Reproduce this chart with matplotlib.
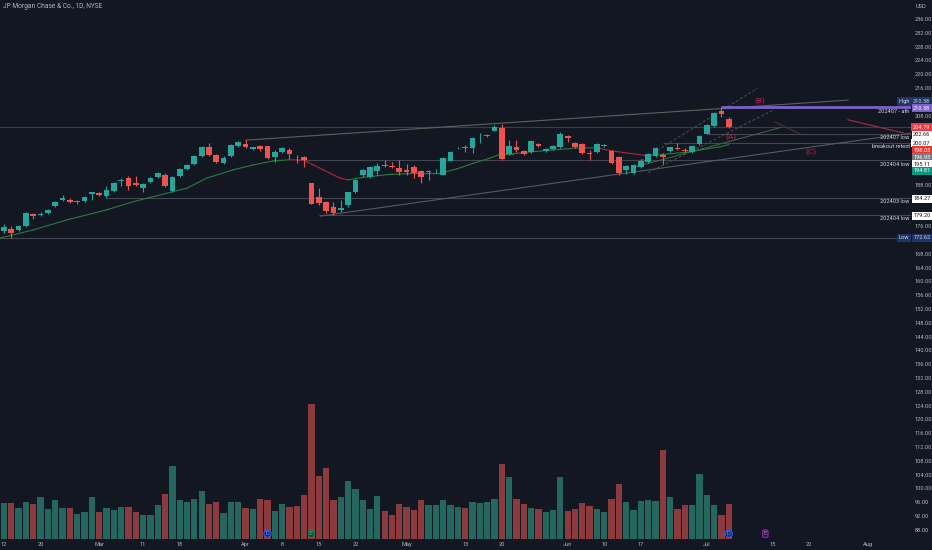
import matplotlib
matplotlib.use("Agg")
import matplotlib.pyplot as plt
from matplotlib.transforms import blended_transform_factory

plt.rcParams['font.family'] = ['Roboto', 'DejaVu Sans']

BG = '#131722'
UP = '#26a69a'
DOWN = '#ef5350'
VOL_UP = '#24675f'
VOL_DOWN = '#8b3a3d'
TXT = '#b2b5be'
FS = 4.1

# daily candles, 12 Feb 2024 .. 5 Jul 2024
opens = [174.5, 175.2, 174.8, 176.0, 179.5, 179.1, 179.8, 181.7, 183.6, 183.7,
         183.0, 183.3, 185.4, 185.7, 184.6, 186.2, 189.1, 189.9, 188.5, 187.1,
         188.8, 190.3, 190.9, 186.3, 190.5, 192.6, 194.1, 196.3, 198.9, 196.5,
         194.4, 196.4, 199.3, 199.9, 198.4, 199.1, 199.1, 196.0, 197.5, 198.0,
         195.8, 196.0, 188.4, 184.5, 182.9, 181.4, 180.6, 182.1, 185.8, 190.8,
         190.3, 192.0, 193.7, 193.5, 192.8, 192.3, 193.0, 192.0, 191.6, 191.9,
         190.8, 195.0, 198.5, 198.8, 198.7, 202.0, 202.1, 203.5, 204.3, 196.8,
         198.9, 197.8, 197.6, 199.8, 197.9, 198.3, 199.0, 202.2, 200.1, 199.7,
         197.3, 197.4, 199.2, 197.8, 195.9, 192.3, 191.3, 193.2, 194.5, 196.3,
         196.5, 197.8, 198.6, 198.1, 197.4, 199.8, 202.7, 205.1, 209.4, 206.9]
highs = [176.5, 175.9, 176.4, 180.0, 179.8, 180.0, 181.0, 183.3, 185.0, 184.1,
         183.7, 184.7, 186.0, 186.0, 187.5, 188.7, 189.9, 190.4, 190.5, 188.5,
         190.1, 191.6, 191.3, 190.6, 192.9, 194.0, 196.5, 199.2, 200.2, 196.8,
         196.2, 199.7, 200.6, 201.0, 199.0, 199.4, 199.3, 198.1, 198.8, 198.7,
         196.6, 196.3, 188.6, 187.0, 183.3, 183.1, 183.6, 186.0, 189.6, 192.5,
         193.4, 194.2, 195.1, 194.5, 195.2, 194.0, 193.7, 192.3, 192.2, 192.4,
         195.9, 197.8, 199.0, 199.5, 201.7, 202.9, 202.8, 205.3, 205.6, 200.9,
         200.9, 198.0, 201.0, 200.1, 198.6, 199.6, 203.4, 202.4, 200.4, 200.0,
         198.1, 200.2, 199.9, 198.1, 196.2, 193.7, 194.0, 195.3, 197.1, 198.8,
         197.1, 199.0, 200.0, 198.5, 199.3, 202.5, 205.6, 209.0, 210.38, 207.7]
lows = [174.0, 172.62, 174.5, 175.8, 178.1, 178.8, 179.5, 181.4, 183.3, 182.6,
        182.5, 183.0, 183.6, 184.8, 184.27, 186.0, 187.5, 186.5, 187.5, 186.0,
        188.5, 190.0, 187.3, 186.0, 190.2, 192.3, 193.8, 196.0, 196.3, 194.4,
        194.1, 196.1, 199.0, 198.7, 198.1, 197.9, 195.4, 194.7, 197.2, 195.4,
        194.2, 193.0, 182.3, 182.1, 179.7, 179.2, 180.2, 181.5, 185.5, 190.2,
        190.0, 190.8, 193.0, 192.8, 190.8, 190.8, 189.9, 188.4, 189.4, 191.5,
        190.7, 194.8, 198.2, 197.5, 197.1, 200.0, 201.9, 203.5, 195.1, 196.5,
        197.6, 196.6, 197.3, 199.0, 197.4, 198.0, 198.5, 200.5, 198.6, 196.8,
        195.1, 197.1, 198.9, 194.0, 190.8, 191.0, 191.0, 192.9, 194.2, 196.0,
        194.0, 197.5, 198.1, 197.6, 197.1, 199.5, 202.66, 204.8, 207.7, 204.3]
closes = [175.7, 174.1, 176.0, 179.7, 178.8, 179.6, 180.8, 183.0, 184.0, 183.1,
          183.4, 184.4, 185.9, 185.1, 186.6, 188.4, 189.5, 187.6, 187.9, 188.2,
          189.8, 191.3, 187.7, 190.3, 192.6, 193.7, 196.2, 198.9, 196.5, 194.7,
          195.7, 199.4, 200.3, 198.8, 198.8, 198.2, 195.7, 197.5, 198.5, 196.9,
          195.6, 195.2, 182.5, 182.6, 180.5, 179.7, 181.3, 185.8, 189.4, 192.2,
          193.1, 193.4, 193.4, 193.1, 191.6, 191.7, 191.5, 190.3, 192.0, 192.1,
          195.6, 197.5, 198.7, 198.5, 201.4, 202.2, 202.5, 204.8, 195.3, 199.3,
          198.0, 196.8, 200.7, 199.3, 198.2, 199.3, 202.6, 201.6, 198.9, 197.1,
          196.8, 199.9, 199.6, 194.2, 191.3, 193.5, 193.7, 195.0, 196.8, 198.5,
          196.0, 198.8, 198.3, 197.9, 199.1, 202.2, 205.3, 208.7, 208.5, 204.79]
# volume in millions (relative bar heights)
volumes = [6.8, 6.8, 5.8, 7.0, 6.6, 7.8, 5.6, 7.4, 5.8, 5.8,
           4.7, 5.0, 7.8, 5.1, 5.8, 5.4, 6.1, 6.1, 5.0, 4.6,
           4.6, 6.4, 8.4, 13.8, 7.3, 6.9, 7.6, 9.0, 6.6, 7.0,
           4.9, 7.0, 7.0, 5.9, 5.6, 7.6, 7.4, 5.3, 6.6, 6.0,
           6.2, 8.3, 25.3, 11.9, 13.3, 7.3, 7.8, 10.8, 9.3, 7.4,
           5.6, 8.0, 5.3, 4.5, 6.6, 6.1, 5.4, 7.3, 6.4, 6.3,
           7.4, 6.4, 6.1, 5.8, 6.9, 6.8, 6.9, 7.5, 14.0, 11.6,
           7.6, 6.6, 5.9, 5.6, 5.0, 5.5, 11.6, 5.3, 5.6, 6.8,
           6.2, 5.6, 5.0, 7.5, 10.3, 6.9, 5.5, 7.1, 7.3, 7.1,
           16.8, 7.9, 5.6, 6.3, 6.4, 12.3, 8.3, 6.4, 4.5, 6.6]

# moving average line, traced at a few points (bar index, price)
ma_x = [-0.6, 4, 8.6, 14, 17.7, 22.2, 25, 27.7, 31.3, 34, 36.8, 39, 41, 43.6, 45.9,
        47, 49, 52.7, 57.3, 59.6, 61.9, 64.1, 66.4, 68, 69.6, 74.1, 78, 81, 83,
        87.8, 90, 93.3, 97.8, 99]
ma_y = [172.5, 174.9, 177.8, 180.7, 183.1, 185.5, 187.0, 189.9, 192.3, 193.7, 194.9,
        195.2, 195.1, 192.3, 189.9, 189.4, 190.1, 191.0, 191.3, 191.3, 192.6, 194.2,
        195.7, 197.0, 197.0, 197.9, 198.6, 198.7, 197.8, 196.4, 196.8, 197.4, 199.0,
        199.6]

tick_idx = [0, 5, 13, 19, 24, 33, 38, 43, 48, 55, 63, 68, 77, 82, 87, 96, 105, 110, 118]
tick_lbl = ['12', '20', 'Mar', '11', '18', 'Apr', '8', '15', '22', 'May', '13', '20',
            'Jun', '10', '17', 'Jul', '15', '22', 'Aug']
price_ticks = [236, 232, 228, 224, 220, 216, 208, 188, 176] + list(range(168, 87, -4))

# key levels: (price, start bar, note)
levels = [(202.66, 96, '202407 low'), (200.07, 90, 'breakout retest'),
          (195.11, 40, '202404 low'), (184.27, 14, '202403 low'),
          (179.20, 43, '202404 low'), (172.62, -1, None)]
ath = 210.38
last_close = closes[-1]

fig = plt.figure(figsize=(9.32, 5.5), dpi=100, facecolor=BG)
ax = fig.add_axes([0, 11 / 550, 911 / 932, 539 / 550])
axv = ax.twinx()
ax.set_zorder(2)
axv.set_zorder(1)
ax.patch.set_visible(False)

n = len(closes)
xs = list(range(n))
up = [c >= o for o, c in zip(opens, closes)]

# volume
axv.bar(xs, volumes, width=0.86, color=[VOL_UP if u else VOL_DOWN for u in up], linewidth=0)
axv.set_ylim(0, max(volumes) * 539 / 134.7)
axv.set_yticks([])
for s in axv.spines.values():
    s.set_visible(False)

# horizontal levels
ax.axhline(last_close, color='#3a3e4a', lw=0.8, zorder=1)
for price, start, note in levels:
    ax.hlines(price, start, 130, color='#434651', lw=0.8, zorder=1)
ax.hlines(ath, 98, 130, color='#7b61c9', lw=2.0, zorder=3)

# trend lines
ax.plot([33, 115.3], [200.9, 212.5], color='#55655d', lw=0.8, zorder=1)
ax.plot([43.2, 124], [178.9, 203.0], color='#545a62', lw=0.8, zorder=1)
ax.plot([87, 102.9], [195.0, 215.9], color='#4b4f5a', lw=0.7, ls=(0, (3, 2)), zorder=1)
ax.plot([88, 105], [191.5, 209.5], color='#4b4f5a', lw=0.7, ls=(0, (3, 2)), zorder=1)
ax.plot([86, 106], [193.0, 204.5], color='#3d6b45', lw=0.7, zorder=1)
ax.plot([105.3, 108.7], [206.2, 202.7], color='#5a2a35', lw=0.8, zorder=1)
ax.plot([115.3, 122.8], [206.8, 203.0], color='#9c2a45', lw=0.9, zorder=1)

# moving average, red where falling
for k in range(len(ma_x) - 1):
    col = '#b22833' if ma_y[k + 1] < ma_y[k] - 0.05 else '#2b7a3b'
    ax.plot(ma_x[k:k + 2], ma_y[k:k + 2], color=col, lw=0.8, zorder=2)

# candles
cols = [UP if u else DOWN for u in up]
ax.vlines(xs, lows, highs, colors=cols, lw=0.8, zorder=4)
bottoms = [min(o, c) for o, c in zip(opens, closes)]
heights = [max(abs(c - o), 0.15) for o, c in zip(opens, closes)]
ax.bar(xs, heights, bottom=bottoms, width=0.78, color=cols, linewidth=0, zorder=5)

# wave labels
for lx, ly, t in [(99.3, 201.8, '(A)'), (103.3, 212.25, '(B)'), (110.2, 197.5, '(C)')]:
    ax.text(lx, ly, t, color='#b02a55', fontsize=6, ha='center', va='center', zorder=6)

ax.set_xlim(-0.546, 123.9)
ax.set_ylim(85.36, 241.5)
for s in ax.spines.values():
    s.set_visible(False)
ax.yaxis.tick_right()
ax.set_yticks(price_ticks, [f'{t:.2f}' for t in price_ticks])
ax.set_xticks(tick_idx, tick_lbl)
ax.tick_params(axis='y', labelsize=FS, length=0, pad=2.5, labelcolor=TXT)
ax.tick_params(axis='x', labelsize=FS, length=0, pad=2.5, labelcolor=TXT)

# price scale tags
tr = blended_transform_factory(ax.transAxes, ax.transData)
tags = [(212.1, 210.38, '#1f3466', '#d1d4dc'), (210.1, 210.38, '#7b61c9', 'white'),
        (204.7, 204.79, '#f23645', 'white'), (202.5, 202.66, 'white', '#131722'),
        (200.0, 200.07, 'white', '#131722'), (197.9, 198.05, '#e53935', 'white'),
        (195.95, 196.95, '#787b86', 'white'), (193.9, 195.11, 'white', '#131722'),
        (192.05, 194.81, '#089981', 'white'), (183.95, 184.27, 'white', '#131722'),
        (178.95, 179.20, 'white', '#131722'), (172.56, 172.62, '#1f3466', '#d1d4dc')]
for pos, val, fc, tc in tags:
    ax.text(1.0118, pos, f'{val:.2f}', transform=tr, ha='center', va='center',
            fontsize=FS, color=tc, clip_on=False, zorder=10,
            bbox=dict(boxstyle='square,pad=0.28', fc=fc, ec='none'))
for pos, t in [(212.1, 'High'), (172.56, 'Low')]:
    ax.text(0.9925, pos, t, transform=tr, ha='center', va='center', fontsize=FS,
            color='#d1d4dc', clip_on=False, zorder=10,
            bbox=dict(boxstyle='square,pad=0.28', fc='#1f3466', ec='none'))

notes = [(ath, '202407 - ath')] + [(p, t) for p, s, t in levels if t]
for price, t in notes:
    ax.text(0.9985, price - 0.4, t, transform=tr, ha='right', va='top', fontsize=FS,
            color='#d1d4dc', zorder=10)

# dividend / earnings markers
trv = blended_transform_factory(axv.transData, axv.transAxes)
for mx, t, fc, ec, tc, bs in [(36, 'D', '#14235a', '#2962ff', '#8fa8ff', 'circle,pad=0.2'),
                              (42, 'E', '#0e3a2a', '#1f8f55', '#7fd3a0', 'round,pad=0.2'),
                              (99, 'D', '#14235a', '#2962ff', '#8fa8ff', 'circle,pad=0.2'),
                              (104, 'E', '#24133a', '#9c27b0', '#c58fe0', 'round,pad=0.2')]:
    axv.text(mx, 0.0098, t, transform=trv, ha='center', va='center', fontsize=4,
             color=tc, clip_on=False, zorder=10,
             bbox=dict(boxstyle=bs, fc=fc, ec=ec, lw=0.8))

fig.text(3 / 932, 1 - 6 / 550, 'JP Morgan Chase & Co., 1D, NYSE', fontsize=4.8,
         color=TXT, va='center', ha='left')
fig.text(921 / 932, 1 - 6 / 550, 'USD', fontsize=FS, color=TXT, va='center', ha='center')

fig.savefig('out.png', dpi=100, facecolor=BG)
